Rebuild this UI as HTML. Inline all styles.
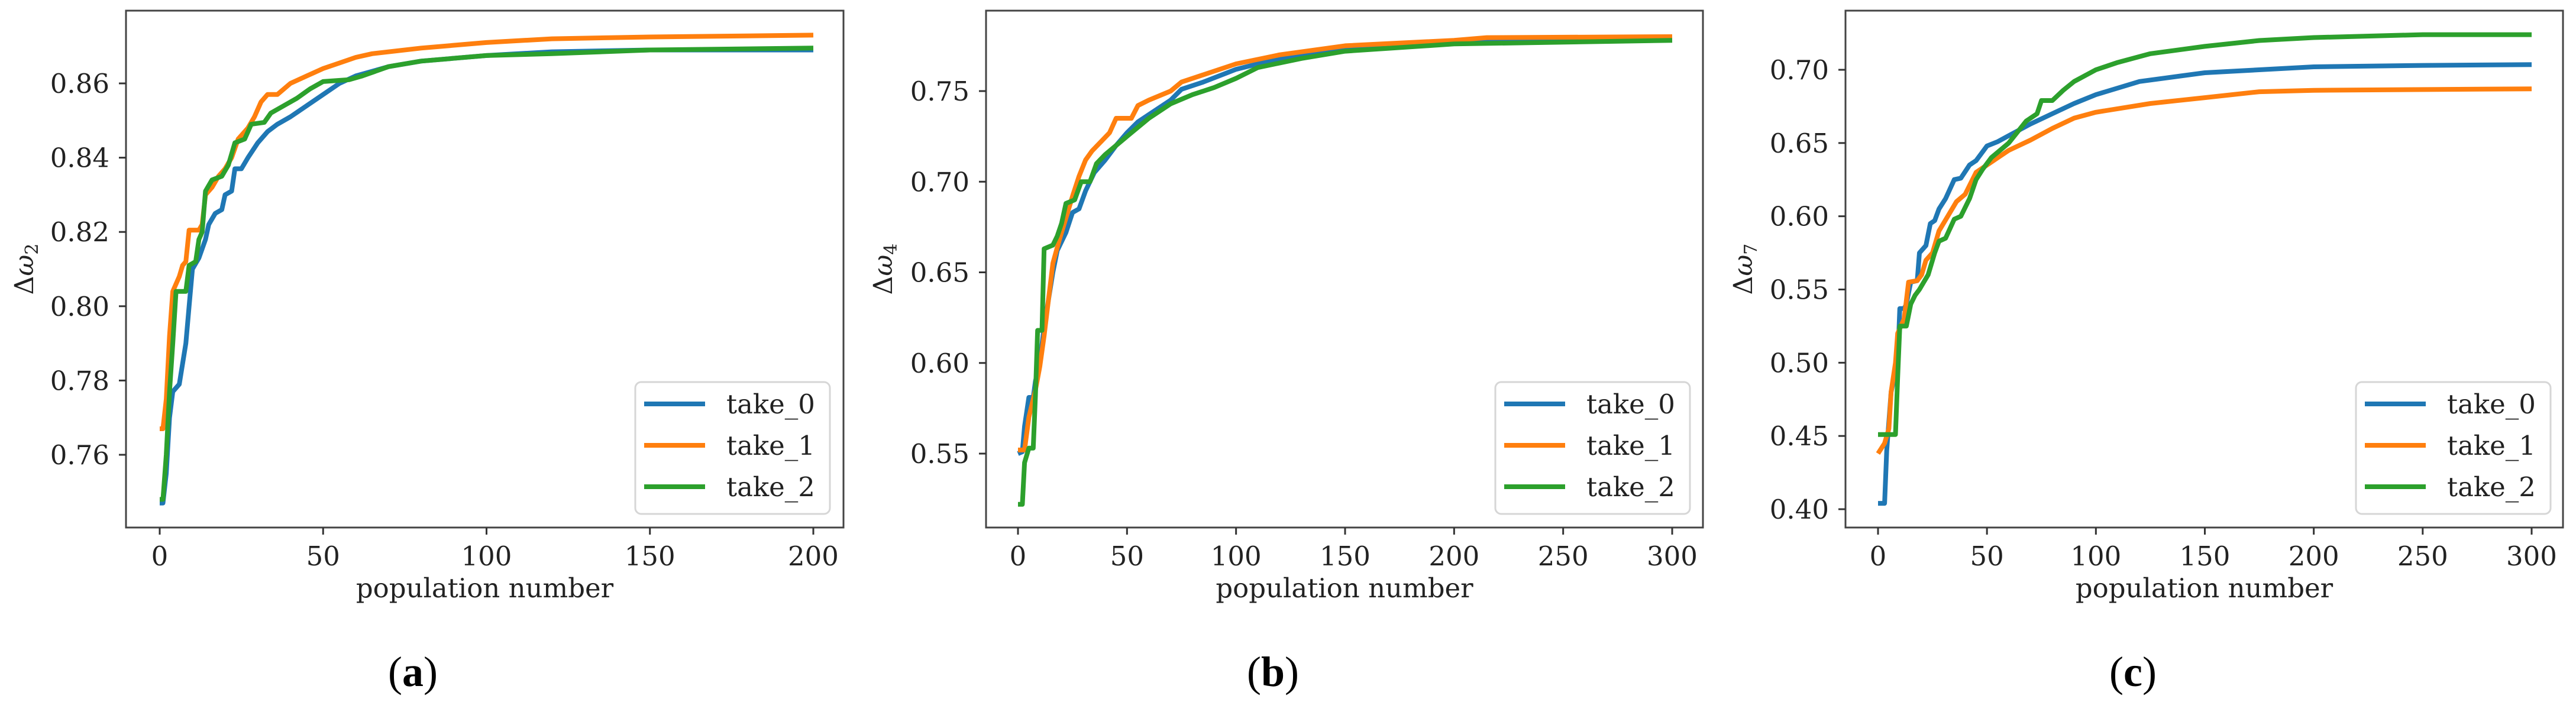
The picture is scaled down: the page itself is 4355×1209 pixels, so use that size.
<!DOCTYPE html>
<html><head><meta charset="utf-8"><style>
html,body{margin:0;padding:0;background:#fff;}
svg{display:block;}
text{font-family:"DejaVu Serif","Liberation Serif",serif;fill:#222;}
</style></head><body>
<svg id="fig" width="4355" height="1209" viewBox="0 0 4355 1209" xmlns="http://www.w3.org/2000/svg"></svg>
<script>
// Panel (a)
const aX0 = [0,1,2,3,4,6,8,9,10,12,14,15,17,19,20,22,23,25,27,30,33,36,40,45,50,55,60,70,80,100,120,150,200];
const aY0 = [0.747,0.747,0.755,0.770,0.777,0.779,0.790,0.800,0.810,0.813,0.818,0.822,0.825,0.826,0.830,0.831,0.837,0.837,0.840,0.844,0.847,0.849,0.851,0.854,0.857,0.860,0.862,0.8645,0.866,0.8675,0.8685,0.869,0.869];
const aX1 = [0,1,2,3,4,6,7,8,9,12,13,14,16,18,20,22,24,27,29,31,33,36,40,45,50,55,60,65,80,100,120,150,200];
const aY1 = [0.767,0.767,0.775,0.792,0.804,0.808,0.811,0.812,0.8205,0.8205,0.822,0.830,0.832,0.835,0.837,0.840,0.845,0.848,0.851,0.855,0.857,0.857,0.860,0.862,0.864,0.8655,0.867,0.868,0.8695,0.871,0.872,0.8725,0.873];
const aX2 = [0,1,2,3,4,5,8,9,11,12,13,14,16,19,21,23,26,28,32,34,38,42,46,50,58,62,70,80,100,120,150,200];
const aY2 = [0.748,0.748,0.760,0.777,0.790,0.804,0.804,0.811,0.812,0.818,0.820,0.831,0.834,0.835,0.838,0.844,0.845,0.849,0.8495,0.852,0.854,0.856,0.8585,0.8605,0.861,0.862,0.8645,0.866,0.8675,0.868,0.869,0.8695];
const aXTicks = [0,50,100,150,200];
const aYTicks = [0.76,0.78,0.80,0.82,0.84,0.86];
const aYTickLabels = ["0.76","0.78","0.80","0.82","0.84","0.86"];
// Panel (b)
const bX0 = [0,2,3,5,7,8,10,12,14,16,18,22,25,28,31,35,40,45,50,55,60,70,75,85,100,120,150,200,250,300];
const bY0 = [0.550,0.551,0.565,0.581,0.581,0.590,0.600,0.620,0.635,0.650,0.662,0.672,0.683,0.685,0.695,0.705,0.712,0.720,0.727,0.733,0.737,0.745,0.751,0.755,0.762,0.768,0.773,0.777,0.779,0.779];
const bX1 = [0,3,5,8,10,12,14,16,19,22,25,28,31,34,38,42,45,52,55,60,70,75,85,100,120,150,200,215,300];
const bY1 = [0.552,0.552,0.570,0.585,0.598,0.615,0.635,0.655,0.668,0.680,0.692,0.703,0.712,0.717,0.722,0.727,0.735,0.735,0.742,0.745,0.750,0.755,0.759,0.765,0.770,0.775,0.778,0.7795,0.780];
const bX2 = [0,2,3,5,7,8,9,11,12,16,18,20,22,26,29,33,36,40,45,50,60,70,80,90,100,110,130,150,200,300];
const bY2 = [0.522,0.522,0.545,0.553,0.553,0.582,0.618,0.618,0.663,0.665,0.670,0.677,0.688,0.690,0.700,0.700,0.710,0.715,0.720,0.725,0.735,0.743,0.748,0.752,0.757,0.763,0.768,0.772,0.776,0.778];
const bXTicks = [0,50,100,150,200,250,300];
const bYTicks = [0.55,0.60,0.65,0.70,0.75];
const bYTickLabels = ["0.55","0.60","0.65","0.70","0.75"];
// Panel (c)
const cX0 = [0,3,4,6,9,10,12,13,15,18,19,22,24,26,28,31,35,38,42,45,50,55,60,70,80,90,100,120,150,200,250,300];
const cY0 = [0.404,0.404,0.440,0.480,0.500,0.537,0.537,0.540,0.555,0.556,0.575,0.580,0.595,0.597,0.605,0.612,0.625,0.626,0.635,0.638,0.648,0.651,0.655,0.663,0.670,0.677,0.683,0.692,0.698,0.702,0.703,0.7035];
const cX1 = [0,3,5,6,8,9,12,14,18,20,22,25,28,32,36,40,45,50,55,60,70,80,90,100,125,150,175,200,300];
const cY1 = [0.438,0.445,0.455,0.480,0.500,0.520,0.530,0.555,0.556,0.560,0.570,0.575,0.590,0.600,0.610,0.615,0.630,0.635,0.640,0.645,0.652,0.660,0.667,0.671,0.677,0.681,0.685,0.686,0.687];
const cX2 = [0,8,9,10,13,15,17,19,21,23,26,28,31,35,38,42,45,48,52,60,68,73,75,80,85,90,100,110,125,150,175,200,250,300];
const cY2 = [0.451,0.451,0.490,0.525,0.525,0.540,0.546,0.550,0.555,0.560,0.575,0.583,0.585,0.598,0.600,0.612,0.625,0.632,0.640,0.650,0.665,0.670,0.679,0.679,0.686,0.692,0.700,0.705,0.711,0.716,0.720,0.722,0.724,0.724];
const cXTicks = [0,50,100,150,200,250,300];
const cYTicks = [0.40,0.45,0.50,0.55,0.60,0.65,0.70];
const cYTickLabels = ["0.40","0.45","0.50","0.55","0.60","0.65","0.70"];
const seriesNames = ["take_0","take_1","take_2"];
const seriesColors = ["#1f77b4","#ff7f0e","#2ca02c"];

const NS = "http://www.w3.org/2000/svg";
const svg = document.getElementById("fig");
function mk(tag, attrs, parent){
  const e = document.createElementNS(NS, tag);
  for (const k in attrs) e.setAttribute(k, attrs[k]);
  (parent||svg).appendChild(e);
  return e;
}

const panels = [
  {id:"a", L:213, R:1426, T:18, B:892, xmin:0, xmax:200, x0px:270, x1px:1375, yA:0.76, yApx:769, yB:0.86, yBpx:141,
   xs:[aX0,aX1,aX2], ys:[aY0,aY1,aY2], xt:aXTicks, yt:aYTicks, ytl:aYTickLabels, sub:"2", capX:698, legL:1074, ylabX:42},
  {id:"b", L:1667, R:2879, T:18, B:892, xmin:0, xmax:300, x0px:1721, x1px:2827, yA:0.55, yApx:767, yB:0.75, yBpx:154,
   xs:[bX0,bX1,bX2], ys:[bY0,bY1,bY2], xt:bXTicks, yt:bYTicks, ytl:bYTickLabels, sub:"4", capX:2152, legL:2528, ylabX:1494},
  {id:"c", L:3120, R:4333, T:18, B:892, xmin:0, xmax:300, x0px:3175, x1px:4280, yA:0.40, yApx:861, yB:0.70, yBpx:118,
   xs:[cX0,cX1,cX2], ys:[cY0,cY1,cY2], xt:cXTicks, yt:cYTicks, ytl:cYTickLabels, sub:"7", capX:3606, legL:3983, ylabX:2948}
];

panels.forEach(p => {
  const xs = v => p.x0px + (v - p.xmin) / (p.xmax - p.xmin) * (p.x1px - p.x0px);
  const ys = v => p.yApx + (v - p.yA) / (p.yB - p.yA) * (p.yBpx - p.yApx);
  const g = mk("g", {});
  
  

  const cp = mk("clipPath", {id:"clip-"+p.id}, g);
  mk("rect", {x:p.L, y:p.T, width:p.R-p.L, height:p.B-p.T}, cp);

  const sg = mk("g", {"clip-path":"url(#clip-"+p.id+")"}, g);
  for (let s = 0; s < 3; s++) {
    const pts = p.xs[s].map((xv, i) => xs(xv).toFixed(1) + "," + ys(p.ys[s][i]).toFixed(1)).join(" ");
    const line = mk("polyline", {points:pts, fill:"none", stroke:seriesColors[s], "stroke-width":8, "stroke-linejoin":"round"}, sg);
    
    
  }

  const frame = mk("rect", {x:p.L, y:p.T, width:p.R-p.L, height:p.B-p.T, fill:"none", stroke:"#444", "stroke-width":3}, g);
  
  

  p.xt.forEach(t => {
    const x = xs(t);
    mk("line", {x1:x, x2:x, y1:p.B, y2:p.B+12, stroke:"#333", "stroke-width":3}, g);
    const tl = mk("text", {x:x, y:956, "font-size":45, "text-anchor":"middle"}, g);
    tl.textContent = String(t);
    
    
  });
  p.yt.forEach((t, i) => {
    const y = ys(t);
    mk("line", {x1:p.L-12, x2:p.L, y1:y, y2:y, stroke:"#333", "stroke-width":3}, g);
    const tl = mk("text", {x:p.L-28, y:y+16, "font-size":45, "text-anchor":"end"}, g);
    tl.textContent = p.ytl[i];
    
    
  });

  const xl = mk("text", {x:(p.L+p.R)/2, y:1010, "font-size":45, "text-anchor":"middle"}, g);
  xl.textContent = "population number";
  
  

  const yl = mk("text", {x:0, y:0, "font-size":44, "text-anchor":"middle", transform:"translate("+(p.ylabX+14)+",455) rotate(-90)"}, g);
  
  
  const t1 = mk("tspan", {}, yl); t1.textContent = "Δ";
  const t2 = mk("tspan", {"font-style":"italic"}, yl); t2.textContent = "ω";
  const t3 = mk("tspan", {"font-size":30, dy:8}, yl); t3.textContent = p.sub;

  const lg = mk("g", {}, g);
  
  
  mk("rect", {x:p.legL, y:646, width:329, height:223, rx:10, fill:"#fff", "fill-opacity":0.85, stroke:"#d6d6d6", "stroke-width":3}, lg);
  for (let s = 0; s < 3; s++) {
    const ry = 683 + s * 70;
    const le = mk("g", {}, lg);
    
    
    mk("line", {x1:p.legL+15, x2:p.legL+118, y1:ry, y2:ry, stroke:seriesColors[s], "stroke-width":8}, le);
    const lt = mk("text", {x:p.legL+154, y:ry+16, "font-size":45}, le);
    lt.textContent = seriesNames[s];
  }

  const cap = mk("text", {x:p.capX, y:1160, "font-size":72, "text-anchor":"middle", style:"font-family:'Liberation Serif',serif;fill:#000"}, g);
  
  
  const c1 = mk("tspan", {}, cap); c1.textContent = "(";
  const c2 = mk("tspan", {"font-weight":"bold"}, cap); c2.textContent = p.id;
  const c3 = mk("tspan", {}, cap); c3.textContent = ")";
});
</script>
</body></html>
